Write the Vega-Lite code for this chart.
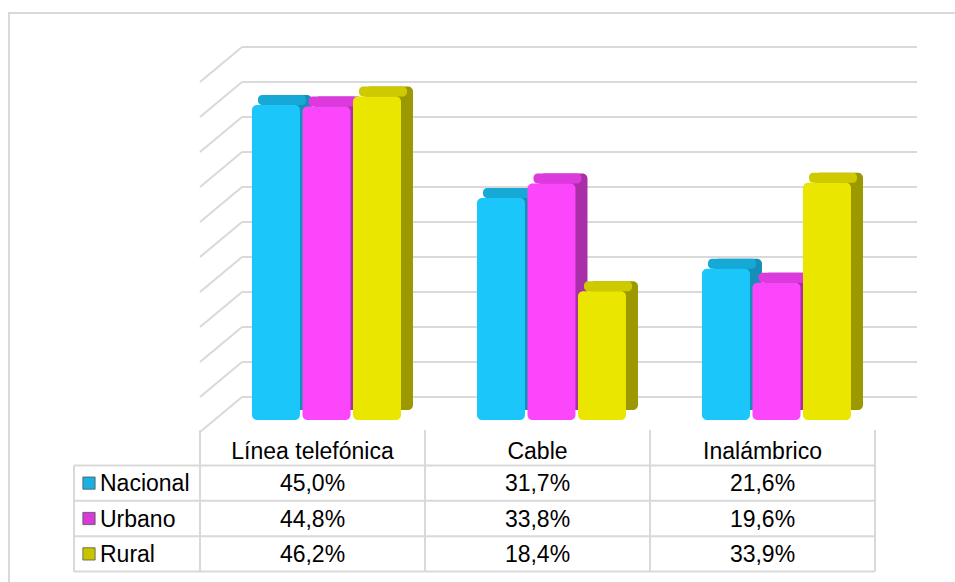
{
  "$schema": "https://vega.github.io/schema/vega-lite/v6.json",
  "width": 946,
  "height": 569,
  "autosize": {"type": "none"},
  "padding": {"left": 9, "top": 13, "right": 0, "bottom": 0},
  "background": "#ffffff",
  "config": {
    "view": {"stroke": "#d9d9d9", "strokeWidth": 2, "strokeDash": [946, 1515, 569]},
    "font": "Liberation Sans",
    "text": {"font": "Liberation Sans", "fontSize": 23, "color": "#000000"}
  },
  "datasets": {
    "bars": [
      {"cat": "Línea telefónica", "series": "Nacional", "value": 45.0},
      {"cat": "Línea telefónica", "series": "Urbano", "value": 44.8},
      {"cat": "Línea telefónica", "series": "Rural", "value": 46.2},
      {"cat": "Cable", "series": "Nacional", "value": 31.7},
      {"cat": "Cable", "series": "Urbano", "value": 33.8},
      {"cat": "Cable", "series": "Rural", "value": 18.4},
      {"cat": "Inalámbrico", "series": "Nacional", "value": 21.6},
      {"cat": "Inalámbrico", "series": "Urbano", "value": 19.6},
      {"cat": "Inalámbrico", "series": "Rural", "value": 33.9}
    ],
    "grid": [
      {"v": 0}, {"v": 5}, {"v": 10}, {"v": 15}, {"v": 20}, {"v": 25},
      {"v": 30}, {"v": 35}, {"v": 40}, {"v": 45}, {"v": 50}
    ],
    "one": [{"k": 1}]
  },
  "layer": [
    {
      "layer": [
        {
          "data": {"name": "grid"},
          "mark": {"type": "rule", "xOffset": 42, "x2Offset": 42, "yOffset": -35, "stroke": "#d9d9d9", "strokeWidth": 2},
          "encoding": {
            "x": {"datum": "Línea telefónica", "type": "nominal", "bandPosition": 0, "axis": null,
                  "scale": {"type": "band", "domain": ["Línea telefónica", "Cable", "Inalámbrico"], "paddingInner": 0, "paddingOuter": 0.6022, "align": 0.7048}},
            "x2": {"datum": "Inalámbrico", "bandPosition": 1},
            "y": {"field": "v", "type": "quantitative", "axis": null,
                  "scale": {"domain": [-21.43, 59.86], "nice": false, "zero": false}}
          }
        },
        {
          "data": {"name": "grid"},
          "mark": {"type": "rule", "x2Offset": 42, "y2Offset": -35, "stroke": "#d9d9d9", "strokeWidth": 2},
          "encoding": {
            "x": {"datum": "Línea telefónica", "type": "nominal", "bandPosition": 0, "axis": null,
                  "scale": {"type": "band", "domain": ["Línea telefónica", "Cable", "Inalámbrico"], "paddingInner": 0, "paddingOuter": 0.6022, "align": 0.7048}},
            "x2": {"datum": "Línea telefónica", "bandPosition": 0},
            "y": {"field": "v", "type": "quantitative", "axis": null,
                  "scale": {"domain": [-21.43, 59.86], "nice": false, "zero": false}},
            "y2": {"field": "v"}
          }
        },
        {
          "data": {"name": "bars"},
          "mark": {"type": "bar", "yOffset": -22, "y2Offset": -22, "cornerRadius": 5},
          "encoding": {
            "x": {"field": "cat", "type": "nominal", "axis": null,
                  "scale": {"type": "band", "domain": ["Línea telefónica", "Cable", "Inalámbrico"], "paddingInner": 0, "paddingOuter": 0.6022, "align": 0.7048}},
            "xOffset": {"field": "series", "type": "nominal",
                        "scale": {"domain": ["Nacional", "Urbano", "Rural"], "paddingInner": 0.05, "paddingOuter": 0.7525, "align": 0.842}},
            "y": {"field": "value", "type": "quantitative", "axis": null, "stack": null,
                  "scale": {"domain": [-21.43, 59.86], "nice": false, "zero": false}},
            "y2": {"datum": 0},
            "color": {"field": "series", "type": "nominal", "legend": null,
                      "scale": {"domain": ["Nacional", "Urbano", "Rural"], "range": ["#1490b8", "#a92fa9", "#9c9800"]}}
          }
        },
        {
          "data": {"name": "bars"},
          "mark": {"type": "bar", "yOffset": -22, "y2Offset": -12, "cornerRadius": 4},
          "encoding": {
            "x": {"field": "cat", "type": "nominal", "axis": null,
                  "scale": {"type": "band", "domain": ["Línea telefónica", "Cable", "Inalámbrico"], "paddingInner": 0, "paddingOuter": 0.6022, "align": 0.7048}},
            "xOffset": {"field": "series", "type": "nominal",
                        "scale": {"domain": ["Nacional", "Urbano", "Rural"], "paddingInner": 0.05, "paddingOuter": 0.7525, "align": 0.763}},
            "y": {"field": "value", "type": "quantitative", "axis": null, "stack": null,
                  "scale": {"domain": [-21.43, 59.86], "nice": false, "zero": false}},
            "y2": {"field": "value"},
            "color": {"field": "series", "type": "nominal", "legend": null,
                      "scale": {"domain": ["Nacional", "Urbano", "Rural"], "range": ["#17a9d6", "#dc3adc", "#cfca00"]}}
          }
        },
        {
          "data": {"name": "bars"},
          "mark": {"type": "bar", "yOffset": -12, "y2Offset": -12, "cornerRadius": 5},
          "encoding": {
            "x": {"field": "cat", "type": "nominal", "axis": null,
                  "scale": {"type": "band", "domain": ["Línea telefónica", "Cable", "Inalámbrico"], "paddingInner": 0, "paddingOuter": 0.6022, "align": 0.7048}},
            "xOffset": {"field": "series", "type": "nominal",
                        "scale": {"domain": ["Nacional", "Urbano", "Rural"], "paddingInner": 0.05, "paddingOuter": 0.7525, "align": 0.684}},
            "y": {"field": "value", "type": "quantitative", "axis": null, "stack": null,
                  "scale": {"domain": [-21.43, 59.86], "nice": false, "zero": false}},
            "y2": {"datum": 0},
            "color": {"field": "series", "type": "nominal", "legend": null,
                      "scale": {"domain": ["Nacional", "Urbano", "Rural"], "range": ["#1ac6fa", "#fb46fb", "#ebe600"]}}
          }
        }
      ],
      "resolve": {"scale": {"xOffset": "independent", "color": "independent"}}
    },
    {
      "layer": [
        {
          "data": {"name": "bars"},
          "transform": [{"calculate": "replace(format(datum.value, '.1f'), '.', ',') + '%'", "as": "label"}],
          "mark": {"type": "text", "baseline": "middle", "align": "center", "fontSize": 23, "dy": 1},
          "encoding": {
            "x": {"field": "cat", "type": "nominal", "axis": null,
                  "scale": {"type": "band", "domain": ["Línea telefónica", "Cable", "Inalámbrico"], "paddingInner": 0, "paddingOuter": 0.6022, "align": 0.7048}},
            "y": {"field": "series", "type": "nominal", "axis": null,
                  "scale": {"type": "band", "domain": ["header", "Nacional", "Urbano", "Rural"], "paddingInner": 0, "paddingOuter": 0, "range": [417, 558.6]}},
            "text": {"field": "label"}
          }
        },
        {
          "data": {"name": "bars"},
          "transform": [{"filter": "datum.series === 'Nacional'"}],
          "mark": {"type": "text", "baseline": "middle", "align": "center", "fontSize": 23, "dy": 4},
          "encoding": {
            "x": {"field": "cat", "type": "nominal", "axis": null,
                  "scale": {"type": "band", "domain": ["Línea telefónica", "Cable", "Inalámbrico"], "paddingInner": 0, "paddingOuter": 0.6022, "align": 0.7048}},
            "y": {"datum": "header", "type": "nominal", "axis": null,
                  "scale": {"type": "band", "domain": ["header", "Nacional", "Urbano", "Rural"], "paddingInner": 0, "paddingOuter": 0, "range": [417, 558.6]}},
            "text": {"field": "cat"}
          }
        },
        {
          "data": {"name": "bars"},
          "transform": [{"filter": "datum.cat === 'Línea telefónica'"}],
          "mark": {"type": "text", "baseline": "middle", "align": "left", "fontSize": 23, "dy": 1, "xOffset": -100},
          "encoding": {
            "x": {"datum": "Línea telefónica", "type": "nominal", "bandPosition": 0, "axis": null,
                  "scale": {"type": "band", "domain": ["Línea telefónica", "Cable", "Inalámbrico"], "paddingInner": 0, "paddingOuter": 0.6022, "align": 0.7048}},
            "y": {"field": "series", "type": "nominal", "axis": null,
                  "scale": {"type": "band", "domain": ["header", "Nacional", "Urbano", "Rural"], "paddingInner": 0, "paddingOuter": 0, "range": [417, 558.6]}},
            "text": {"field": "series"}
          }
        },
        {
          "data": {"name": "bars"},
          "transform": [{"filter": "datum.cat === 'Línea telefónica'"}],
          "mark": {"type": "point", "shape": "square", "filled": true, "size": 150, "opacity": 1, "xOffset": -111, "stroke": "#555555", "strokeWidth": 0.8},
          "encoding": {
            "x": {"datum": "Línea telefónica", "type": "nominal", "bandPosition": 0, "axis": null,
                  "scale": {"type": "band", "domain": ["Línea telefónica", "Cable", "Inalámbrico"], "paddingInner": 0, "paddingOuter": 0.6022, "align": 0.7048}},
            "y": {"field": "series", "type": "nominal", "axis": null,
                  "scale": {"type": "band", "domain": ["header", "Nacional", "Urbano", "Rural"], "paddingInner": 0, "paddingOuter": 0, "range": [417, 558.6]}},
            "color": {"field": "series", "type": "nominal", "legend": null,
                      "scale": {"domain": ["Nacional", "Urbano", "Rural"], "range": ["#1ab0e0", "#d83ad8", "#c8c400"]}}
          }
        },
        {
          "data": {"name": "bars"},
          "transform": [{"filter": "datum.cat === 'Línea telefónica'"}],
          "mark": {"type": "rule", "xOffset": -126, "stroke": "#d9d9d9", "strokeWidth": 2},
          "encoding": {
            "x": {"datum": "Línea telefónica", "type": "nominal", "bandPosition": 0, "axis": null,
                  "scale": {"type": "band", "domain": ["Línea telefónica", "Cable", "Inalámbrico"], "paddingInner": 0, "paddingOuter": 0.6022, "align": 0.7048}},
            "x2": {"datum": "Inalámbrico", "bandPosition": 1},
            "y": {"field": "series", "type": "nominal", "bandPosition": 1, "axis": null,
                  "scale": {"type": "band", "domain": ["header", "Nacional", "Urbano", "Rural"], "paddingInner": 0, "paddingOuter": 0, "range": [417, 558.6]}}
          }
        },
        {
          "data": {"name": "one"},
          "mark": {"type": "rule", "xOffset": -126, "stroke": "#d9d9d9", "strokeWidth": 2},
          "encoding": {
            "x": {"datum": "Línea telefónica", "type": "nominal", "bandPosition": 0, "axis": null,
                  "scale": {"type": "band", "domain": ["Línea telefónica", "Cable", "Inalámbrico"], "paddingInner": 0, "paddingOuter": 0.6022, "align": 0.7048}},
            "x2": {"datum": "Inalámbrico", "bandPosition": 1},
            "y": {"datum": "header", "type": "nominal", "bandPosition": 1, "axis": null,
                  "scale": {"type": "band", "domain": ["header", "Nacional", "Urbano", "Rural"], "paddingInner": 0, "paddingOuter": 0, "range": [417, 558.6]}}
          }
        },
        {
          "data": {"name": "bars"},
          "transform": [{"filter": "datum.series === 'Nacional'"}],
          "mark": {"type": "rule", "stroke": "#d9d9d9", "strokeWidth": 2},
          "encoding": {
            "x": {"field": "cat", "type": "nominal", "bandPosition": 0, "axis": null,
                  "scale": {"type": "band", "domain": ["Línea telefónica", "Cable", "Inalámbrico"], "paddingInner": 0, "paddingOuter": 0.6022, "align": 0.7048}},
            "y": {"datum": "header", "type": "nominal", "bandPosition": 0, "axis": null,
                  "scale": {"type": "band", "domain": ["header", "Nacional", "Urbano", "Rural"], "paddingInner": 0, "paddingOuter": 0, "range": [417, 558.6]}},
            "y2": {"datum": "Rural", "bandPosition": 1}
          }
        },
        {
          "data": {"name": "one"},
          "mark": {"type": "rule", "stroke": "#d9d9d9", "strokeWidth": 2},
          "encoding": {
            "x": {"datum": "Inalámbrico", "type": "nominal", "bandPosition": 1, "axis": null,
                  "scale": {"type": "band", "domain": ["Línea telefónica", "Cable", "Inalámbrico"], "paddingInner": 0, "paddingOuter": 0.6022, "align": 0.7048}},
            "y": {"datum": "header", "type": "nominal", "bandPosition": 0, "axis": null,
                  "scale": {"type": "band", "domain": ["header", "Nacional", "Urbano", "Rural"], "paddingInner": 0, "paddingOuter": 0, "range": [417, 558.6]}},
            "y2": {"datum": "Rural", "bandPosition": 1}
          }
        },
        {
          "data": {"name": "one"},
          "mark": {"type": "rule", "xOffset": -126, "stroke": "#d9d9d9", "strokeWidth": 2},
          "encoding": {
            "x": {"datum": "Línea telefónica", "type": "nominal", "bandPosition": 0, "axis": null,
                  "scale": {"type": "band", "domain": ["Línea telefónica", "Cable", "Inalámbrico"], "paddingInner": 0, "paddingOuter": 0.6022, "align": 0.7048}},
            "y": {"datum": "Nacional", "type": "nominal", "bandPosition": 0, "axis": null,
                  "scale": {"type": "band", "domain": ["header", "Nacional", "Urbano", "Rural"], "paddingInner": 0, "paddingOuter": 0, "range": [417, 558.6]}},
            "y2": {"datum": "Rural", "bandPosition": 1}
          }
        }
      ]
    }
  ],
  "resolve": {"scale": {"y": "independent", "color": "independent", "xOffset": "independent"}}
}
